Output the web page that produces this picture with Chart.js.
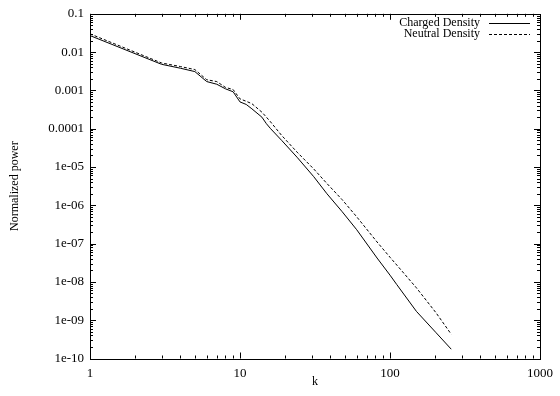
<!DOCTYPE html>
<html>
<head>
<meta charset="utf-8">
<script src="https://cdn.jsdelivr.net/npm/chart.js@4"></script>
<style>
  html, body { margin: 0; padding: 0; background: #fff; }
  #wrap { width: 560px; height: 396px; }
</style>
</head>
<body>
<div id="wrap"><canvas id="grafica"></canvas></div>
<script>
// Datos
const kValues = [1, 3, 4, 5, 6, 7, 8, 9, 10, 11, 12, 14, 15, 16, 19, 24, 31, 38, 48, 60, 82, 100, 111, 150, 203, 256];
const chargedPower = [0.027, 0.0048, 0.0038, 0.0031, 0.0017, 0.00145, 0.0011, 0.00092, 0.0005, 0.00043, 0.00033, 0.0002, 0.000135, 0.0001,
  4.9e-5, 1.8e-5, 5.6e-6, 2.0e-6, 6.8e-7, 2.3e-7, 4.2e-8, 1.5e-8, 8.5e-9, 1.7e-9, 4.7e-10, 1.75e-10];
const neutralPower = [0.03, 0.0052, 0.0042, 0.0035, 0.0019, 0.0017, 0.0012, 0.00105, 0.0006, 0.00052, 0.00045, 0.00027, 0.0002, 0.00015,
  6.6e-5, 2.45e-5, 8.9e-6, 3.7e-6, 1.4e-6, 5e-7, 1.1e-7, 4.4e-8, 2.75e-8, 7e-9, 1.55e-9, 4.3e-10];
const seriesNames = ["Charged Density", "Neutral Density"];
const xTickLabels = ["1", "10", "100", "1000"];
const yTickLabels = ["1e-10", "1e-09", "1e-08", "1e-07", "1e-06", "1e-05", "0.0001", "0.001", "0.01", "0.1"];

const fuente = "'Liberation Serif', 'DejaVu Serif', serif";

function puntos(ys) {
  return kValues.map((k, i) => ({ x: k, y: ys[i] }));
}

function esDecada(v) {
  const e = Math.log10(v);
  return Math.abs(e - Math.round(e)) < 1e-6;
}

// marcas hacia dentro en los cuatro lados, estilo gnuplot
const marcasPlugin = {
  id: "marcas",
  afterDraw(chart) {
    const c = chart.ctx;
    const a = chart.chartArea;
    const sx = chart.scales.x, sy = chart.scales.y;
    c.save();
    c.strokeStyle = "#000";
    c.lineWidth = 1;
    c.beginPath();
    for (let d = 0; d < 3; d++) {
      for (let m = 1; m <= 9; m++) {
        const v = Math.pow(10, d) * m;
        const px = Math.round(sx.getPixelForValue(v)) + 0.5;
        const len = m === 1 ? 6 : 3;
        c.moveTo(px, a.bottom); c.lineTo(px, a.bottom - len);
        c.moveTo(px, a.top); c.lineTo(px, a.top + len);
      }
    }
    for (let d = -10; d < -1; d++) {
      for (let m = 1; m <= 9; m++) {
        const v = Math.pow(10, d) * m;
        const py = Math.round(sy.getPixelForValue(v)) + 0.5;
        const len = m === 1 ? 6 : 3;
        c.moveTo(a.left, py); c.lineTo(a.left + len, py);
        c.moveTo(a.right, py); c.lineTo(a.right - len, py);
      }
    }
    c.stroke();
    c.strokeRect(Math.round(a.left) + 0.5, Math.round(a.top) + 0.5, Math.round(a.right - a.left), Math.round(a.bottom - a.top));

    // leyenda
    c.font = "12px " + fuente;
    c.fillStyle = "#000";
    c.textAlign = "right";
    c.textBaseline = "middle";
    chart.data.datasets.forEach((ds, i) => {
      const y = 23 + i * 11;
      c.fillText(ds.label, 480, y);
      c.beginPath();
      c.setLineDash(ds.borderDash || []);
      c.moveTo(489, Math.round(y) + 0.5);
      c.lineTo(530, Math.round(y) + 0.5);
      c.stroke();
    });
    c.restore();
  }
};

const ctx = document.getElementById("grafica").getContext("2d");

const config = {
  type: "line",
  data: {
    datasets: [
      {
        label: seriesNames[0],
        data: puntos(chargedPower),
        borderColor: "#000",
        borderWidth: 1,
        pointRadius: 0,
        tension: 0,
        fill: false
      },
      {
        label: seriesNames[1],
        data: puntos(neutralPower),
        borderColor: "#000",
        borderWidth: 1,
        borderDash: [3, 2],
        pointRadius: 0,
        tension: 0,
        fill: false
      }
    ]
  },
  options: {
    responsive: false,
    animation: false,
    layout: { padding: { top: 12.5, right: 15, left: 0, bottom: 0 } },
    plugins: { legend: { display: false }, tooltip: { enabled: false } },
    scales: {
      x: {
        type: "logarithmic",
        min: 1,
        max: 1000,
        grid: { display: false, drawTicks: false },
        border: { display: false },
        ticks: {
          autoSkip: false,
          maxRotation: 0,
          padding: 7,
          color: "#000",
          font: { family: fuente, size: 13 },
          callback: (v) => esDecada(v) ? xTickLabels[Math.round(Math.log10(v))] : null
        },
        title: {
          display: true,
          text: "k",
          color: "#000",
          font: { family: fuente, size: 12 },
          padding: { top: 0, bottom: 7 }
        },
        afterFit(s) { s.height = 37.5; }
      },
      y: {
        type: "logarithmic",
        min: 1e-10,
        max: 0.1,
        grid: { display: false, drawTicks: false },
        border: { display: false },
        ticks: {
          autoSkip: false,
          padding: 6,
          color: "#000",
          font: { family: fuente, size: 13 },
          callback: (v) => esDecada(v) ? yTickLabels[Math.round(Math.log10(v)) + 10] : null
        },
        title: {
          display: true,
          text: "Normalized power",
          color: "#000",
          font: { family: fuente, size: 12 },
          padding: { top: 8, bottom: 0 }
        },
        afterFit(s) { s.width = 90; }
      }
    }
  },
  plugins: [marcasPlugin]
};

const canvas = document.getElementById("grafica");
canvas.width = 560;
canvas.height = 396;
const miGrafica = new Chart(ctx, config);
</script>
</body>
</html>
